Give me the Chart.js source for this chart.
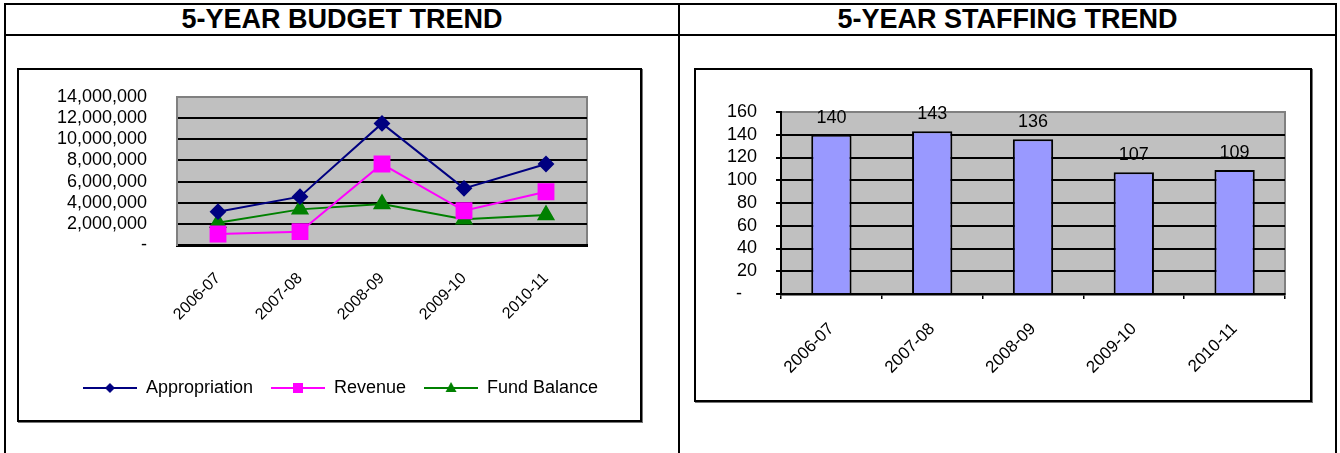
<!DOCTYPE html>
<html>
<head>
<meta charset="utf-8">
<script src="https://cdn.jsdelivr.net/npm/chart.js@4.4.0/dist/chart.umd.min.js"></script>
<style>
  body { margin: 0; background: #fff; font-family: Arial, "Liberation Sans", sans-serif; }
  #page { position: relative; width: 1340px; height: 453px; overflow: hidden; }
  .rule { position: absolute; background: #000; }
  .head { position: absolute; top: 4px; height: 30px; line-height: 31px; text-align: center;
          font-weight: bold; font-size: 27px; color: #000; }
  .frame { position: absolute; border: 2px solid #000; box-sizing: border-box; box-shadow: 1px 1px 0 #777; }
  .frame canvas { position: absolute; left: 0; top: 0; }
</style>
</head>
<body>
<div id="page">
  <div class="rule" style="left:4px;top:3px;width:1333px;height:2px"></div>
  <div class="rule" style="left:4px;top:34px;width:1333px;height:2px"></div>
  <div class="rule" style="left:4px;top:3px;width:2px;height:450px"></div>
  <div class="rule" style="left:678px;top:3px;width:2px;height:450px"></div>
  <div class="rule" style="left:1335px;top:3px;width:2px;height:450px"></div>
  <div class="head" style="left:6px;width:672px">5-YEAR BUDGET TREND</div>
  <div class="head" style="left:680px;width:655px">5-YEAR STAFFING TREND</div>

  <div class="frame" style="left:17px;top:68px;width:625px;height:354px">
    <canvas id="budget" width="621" height="350"></canvas>
  </div>
  <div class="frame" style="left:694px;top:68px;width:618px;height:334px">
    <canvas id="staffing" width="614" height="330"></canvas>
  </div>
</div>

<script>
const years = ["2006-07", "2007-08", "2008-09", "2009-10", "2010-11"];
const appropriation = [3150000, 4570000, 11500000, 5360000, 7660000];
const revenue = [1040000, 1260000, 7660000, 3240000, 5040000];
const fundBalance = [2110000, 3370000, 3880000, 2430000, 2840000];
const staffing = [140, 143, 136, 107, 109];

const FONT = "Arial, 'Liberation Sans', sans-serif";

// grey plot area with a thin grey frame, like the Excel chart
const plotBg = {
  id: "plotBg",
  beforeDraw(chart) {
    const { ctx, chartArea: a } = chart;
    ctx.save();
    ctx.fillStyle = "#C0C0C0";
    ctx.fillRect(a.left, a.top, a.width, a.height);
    ctx.strokeStyle = "#808080";
    ctx.lineWidth = 2;
    ctx.strokeRect(a.left, a.top, a.width, a.height);
    ctx.restore();
  },
};

// legend marker: a short line with the point symbol in the middle
function legendMarker(color, shape) {
  const c = document.createElement("canvas");
  c.width = 54;
  c.height = 14;
  const g = c.getContext("2d");
  g.strokeStyle = color;
  g.fillStyle = color;
  g.lineWidth = 2;
  g.beginPath();
  g.moveTo(0, 7);
  g.lineTo(54, 7);
  g.stroke();
  g.beginPath();
  if (shape === "diamond") {
    g.moveTo(27, 2); g.lineTo(32, 7); g.lineTo(27, 12); g.lineTo(22, 7);
  } else if (shape === "square") {
    g.rect(22, 2, 10, 10);
  } else {
    g.moveTo(27, 1); g.lineTo(32.5, 11); g.lineTo(21.5, 11);
  }
  g.closePath();
  g.fill();
  return c;
}
const markers = [
  legendMarker("#000080", "diamond"),
  legendMarker("#FF00FF", "square"),
  legendMarker("#008000", "triangle"),
];

const gridColor = (max) => (ctx) =>
  ctx.tick.value === 0 || ctx.tick.value === max ? "rgba(0,0,0,0)" : "#000";

new Chart(document.getElementById("budget"), {
  type: "line",
  data: {
    labels: years,
    datasets: [
      {
        label: "Appropriation",
        data: appropriation,
        borderColor: "#000080",
        backgroundColor: "#000080",
        borderWidth: 2,
        pointStyle: "rectRot",
        pointRadius: 7,
      },
      {
        label: "Revenue",
        data: revenue,
        borderColor: "#FF00FF",
        backgroundColor: "#FF00FF",
        borderWidth: 2,
        pointStyle: "rect",
        pointRadius: 10.5,
      },
      {
        label: "Fund Balance",
        data: fundBalance,
        borderColor: "#008000",
        backgroundColor: "#008000",
        borderWidth: 2,
        pointStyle: "triangle",
        pointRadius: 8.5,
      },
    ],
  },
  options: {
    responsive: false,
    animation: false,
    layout: { padding: { top: 27, left: 22, right: 0, bottom: 13 } },
    scales: {
      x: {
        offset: true,
        grid: { display: false, drawTicks: false },
        border: { color: "#000", width: 3 },
        ticks: {
          color: "#000",
          font: { family: FONT, size: 16 },
          minRotation: 45,
          maxRotation: 45,
          padding: 24,
        },
        afterFit: (s) => { s.height = 116; },
      },
      y: {
        min: 0,
        max: 14000000,
        // invisible tick marks keep the labels 30px off the axis
        grid: { color: gridColor(14000000), lineWidth: 2, tickLength: 28, tickColor: "rgba(0,0,0,0)" },
        border: { color: "#808080", width: 2 },
        ticks: {
          stepSize: 2000000,
          autoSkip: false,
          color: "#000",
          padding: 2,
          font: { family: FONT, size: 18, lineHeight: 1 },
          callback: (v) => (v === 0 ? "-" : v.toLocaleString("en-US")),
        },
        afterFit: (s) => { s.width = 136; },
      },
      spacer: {
        type: "linear",
        position: "right",
        grid: { display: false, drawTicks: false },
        border: { display: false },
        ticks: { display: false },
        afterFit: (s) => { s.width = 53; },
      },
    },
    plugins: {
      legend: {
        position: "bottom",
        labels: {
          usePointStyle: true,
          pointStyleWidth: 54,
          padding: 18,
          color: "#000",
          font: { family: FONT, size: 18 },
          generateLabels: (chart) => {
            const items = Chart.defaults.plugins.legend.labels.generateLabels(chart);
            items.forEach((it, i) => { it.pointStyle = markers[i]; });
            return items;
          },
        },
      },
      tooltip: { enabled: false },
    },
  },
  plugins: [plotBg],
});

// value labels above each bar
const barValues = {
  id: "barValues",
  afterDatasetsDraw(chart) {
    const { ctx } = chart;
    const meta = chart.getDatasetMeta(0);
    ctx.save();
    ctx.fillStyle = "#000";
    ctx.font = "18px " + FONT;
    ctx.textAlign = "center";
    ctx.textBaseline = "bottom";
    meta.data.forEach((bar, i) => {
      ctx.fillText(String(staffing[i]), bar.x, bar.y - 8);
    });
    ctx.restore();
  },
};

new Chart(document.getElementById("staffing"), {
  type: "bar",
  data: {
    labels: years,
    datasets: [
      {
        label: "Staffing",
        data: staffing,
        backgroundColor: "#9999FF",
        borderColor: "#000",
        borderWidth: 2,
        barPercentage: 0.4,
        categoryPercentage: 1.0,
      },
    ],
  },
  options: {
    responsive: false,
    animation: false,
    layout: { padding: { top: 42, left: 0, right: 25, bottom: 0 } },
    scales: {
      x: {
        grid: { drawOnChartArea: false, color: "#000", tickColor: "#000", tickLength: 5, lineWidth: 1.5 },
        border: { color: "#000", width: 2.5 },
        ticks: {
          color: "#000",
          font: { family: FONT, size: 17 },
          minRotation: 45,
          maxRotation: 45,
          padding: 20,
        },
        afterFit: (s) => { s.height = 106; },
      },
      y: {
        min: 0,
        max: 160,
        grid: { color: gridColor(160), tickColor: "#000", lineWidth: 2, tickLength: 5 },
        border: { color: "#000", width: 2 },
        ticks: {
          stepSize: 20,
          autoSkip: false,
          color: "#000",
          padding: 19,
          font: { family: FONT, size: 18, lineHeight: 1 },
          callback: (v) => (v === 0 ? "-   " : String(v)),
        },
        afterFit: (s) => { s.width = 85; },
      },
    },
    plugins: {
      legend: { display: false },
      tooltip: { enabled: false },
    },
  },
  plugins: [plotBg, barValues],
});
</script>
</body>
</html>
